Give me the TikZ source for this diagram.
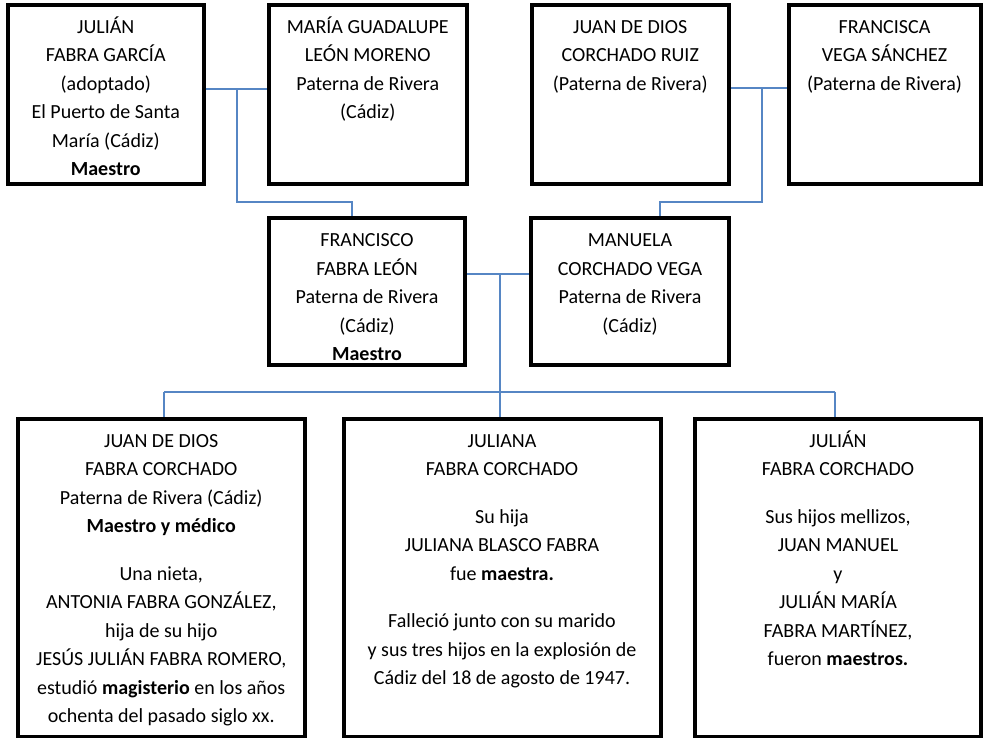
\documentclass[tikz,border=0pt]{standalone}
\usepackage{fontspec}
\setmainfont{Carlito}
\definecolor{linkblue}{RGB}{86,134,196}
\newcommand{\ptext}[3]{\begin{minipage}[c][#2][t]{#1}\fontsize{20}{28.4}\selectfont\centering\rule{0pt}{28.5pt}\ignorespaces #3\end{minipage}}
\begin{document}
\begin{tikzpicture}[x=1pt,y=1pt,
  person/.style={draw=black, line width=4pt, fill=white, inner sep=0pt},
  link/.style={draw=linkblue, line width=1.5pt}]
\useasboundingbox (0,0) rectangle (983,738);
% top row
\node[person] (b1) at (105.75,643.5) {\ptext{195.5pt}{179pt}{JULIÁN\\FABRA GARCÍA\\(adoptado)\\El Puerto de Santa\\María (Cádiz)\\\textbf{Maestro}}};
\node[person] (b2) at (367.75,643.5) {\ptext{197.5pt}{179pt}{MARÍA GUADALUPE\\LEÓN MORENO\\Paterna de Rivera\\(Cádiz)}};
\node[person] (b3) at (630.25,643.5) {\ptext{197.5pt}{179pt}{JUAN DE DIOS\\CORCHADO RUIZ\\(Paterna de Rivera)}};
\node[person] (b4) at (884.5,643.5) {\ptext{192pt}{179pt}{FRANCISCA\\VEGA SÁNCHEZ\\(Paterna de Rivera)}};
% middle row
\node[person] (b5) at (367,446) {\ptext{196pt}{147pt}{FRANCISCO\\FABRA LEÓN\\Paterna de Rivera\\(Cádiz)\\\textbf{Maestro}}};
\node[person] (b6) at (630,446) {\ptext{198pt}{147pt}{MANUELA\\CORCHADO VEGA\\Paterna de Rivera\\(Cádiz)}};
% bottom row
\node[person] (b7) at (161.25,160) {\ptext{287.5pt}{318pt}{JUAN DE DIOS\\FABRA CORCHADO\\Paterna de Rivera (Cádiz)\\\textbf{Maestro y médico}\\[19.4pt]Una nieta,\\ANTONIA FABRA GONZÁLEZ,\\hija de su hijo\\JESÚS JULIÁN FABRA ROMERO,\\estudió \textbf{magisterio} en los años\\ochenta del pasado siglo xx.}};
\node[person] (b8) at (502,160) {\ptext{317pt}{318pt}{JULIANA\\FABRA CORCHADO\\[19.2pt]Su hija\\JULIANA BLASCO FABRA\\fue \textbf{maestra.}\\[19.2pt]Falleció junto con su marido\\y sus tres hijos en la explosión de\\Cádiz del 18 de agosto de 1947.}};
\node[person] (b9) at (838,160) {\ptext{286pt}{318pt}{JULIÁN\\FABRA CORCHADO\\[19.2pt]Sus hijos mellizos,\\JUAN MANUEL\\y\\JULIÁN MARÍA\\FABRA MARTÍNEZ,\\fueron \textbf{maestros.}}};
% connectors
\coordinate (j1) at (237,649);
\coordinate (k1) at (352,536);
\draw[link] (b1.east |- j1) -- (b2.west |- j1);
\draw[link] (j1) |- (k1) -- (k1 |- b5.north);
\coordinate (j2) at (762,650);
\coordinate (k2) at (660,536);
\draw[link] (b3.east |- j2) -- (b4.west |- j2);
\draw[link] (j2) |- (k2) -- (k2 |- b6.north);
\coordinate (j3) at (500,464);
\coordinate (k3) at (164,346);
\coordinate (k4) at (835,346);
\draw[link] (b5.east |- j3) -- (b6.west |- j3);
\draw[link] (j3) -- (j3 |- k3) -- (j3 |- b8.north);
\draw[link] (k3) -- (k4);
\draw[link] (k3) -- (k3 |- b7.north);
\draw[link] (k4) -- (k4 |- b9.north);
\end{tikzpicture}
\end{document}
